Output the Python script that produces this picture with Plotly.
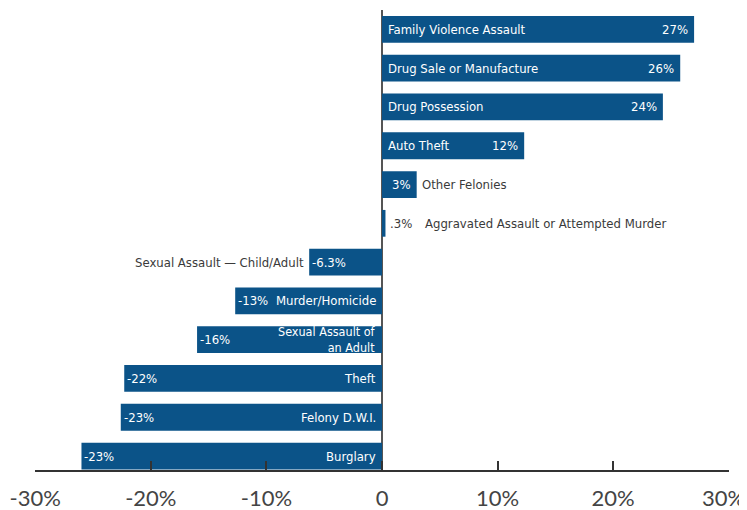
import plotly.graph_objects as go

categories = ["Family Violence Assault", "Drug Sale or Manufacture", "Drug Possession",
              "Auto Theft", "Other Felonies", "Aggravated Assault or Attempted Murder",
              "Sexual Assault — Child/Adult", "Murder/Homicide", "Sexual Assault of<br>an Adult",
              "Theft", "Felony D.W.I.", "Burglary"]
values = [27.0, 25.8, 24.3, 12.3, 3.0, 0.3, -6.3, -12.7, -16.0, -22.3, -22.6, -26.0]
pct_labels = ["27%", "26%", "24%", "12%", "3%", ".3%", "-6.3%", "-13%", "-16%", "-22%", "-23%", "-23%"]
tick_vals = [-30, -20, -10, 0, 10, 20, 30]
tick_text = ["-30%", "-20%", "-10%", "0", "10%", "20%", "30%"]

# placement: (name position, pct position)
placement = {
    "Family Violence Assault": ("in_base", "in_end"),
    "Drug Sale or Manufacture": ("in_base", "in_end"),
    "Drug Possession": ("in_base", "in_end"),
    "Auto Theft": ("in_base", "in_end"),
    "Other Felonies": ("out_end", "in_end"),
    "Aggravated Assault or Attempted Murder": ("out_far", "out_end"),
    "Sexual Assault — Child/Adult": ("out_end", "in_end"),
    "Murder/Homicide": ("in_base", "in_end"),
    "Sexual Assault of<br>an Adult": ("in_base", "in_end"),
    "Theft": ("in_base", "in_end"),
    "Felony D.W.I.": ("in_base", "in_end"),
    "Burglary": ("in_base", "in_end"),
}

BAR = "#0b5388"
DARK = "#3a3a3a"
LABEL_FONT = "Liberation Sans Narrow, DejaVu Sans Condensed, Arial Narrow, sans-serif"
TICK_FONT = dict(family="Lato, sans-serif", size=22, color="#444")

ypos = list(range(len(categories) - 1, -1, -1))

fig = go.Figure(go.Bar(
    x=values, y=ypos, orientation="h", width=0.69,
    marker=dict(color=BAR, line=dict(width=0)),
    hoverinfo="skip",
))

annotations = []
for cat, v, p, y in zip(categories, values, pct_labels, ypos):
    npos, ppos = placement[cat]
    sign = 1 if v >= 0 else -1

    def add(text, pos):
        if pos == "in_base":
            x, xanchor, shift, col = 0, "left" if sign > 0 else "right", 4 * sign, "white"
        elif pos == "in_end":
            x, xanchor, shift = v, "right" if sign > 0 else "left", (-4 if sign > 0 else 1)
            col = "white"
        elif pos == "out_end":
            x, xanchor, shift, col = v, "left" if sign > 0 else "right", 3 * sign, DARK
        else:  # out_far
            x, xanchor, shift, col = v, "left", 38, DARK
        annotations.append(dict(
            x=x, y=y, xref="x", yref="y", text=text, showarrow=False,
            xanchor=xanchor, yanchor="middle", xshift=shift,
            align="right" if xanchor == "right" else "left",
            font=dict(family=LABEL_FONT, size=13 if "<br>" not in text else 12.5, color=col),
        ))

    add(cat, npos)
    add(p, ppos)

# last tick label is pulled inside the page edge, as in the reference
shown_text = tick_text[:-1] + [""]
annotations.append(dict(
    x=tick_vals[-1], y=0, xref="x", yref="paper", text=tick_text[-1], showarrow=False,
    xanchor="right", yanchor="middle", xshift=18, yshift=-27, font=TICK_FONT,
))

# page body has an 8px margin; figure is offset to compensate
fig.update_layout(
    width=747, height=502,
    margin=dict(l=27, r=26, t=2, b=40, autoexpand=False),
    paper_bgcolor="white", plot_bgcolor="white",
    showlegend=False,
    annotations=annotations,
    xaxis=dict(
        range=[-30.02, 30.02], tickvals=tick_vals, ticktext=shown_text,
        showgrid=False, zeroline=True, zerolinecolor="#555", zerolinewidth=2,
        showline=True, linecolor="#333", linewidth=2,
        ticks="inside", ticklen=9, tickwidth=2, tickcolor="#333",
        tickfont=TICK_FONT,
        ticklabelstandoff=8, ticklabeloverflow="allow",
        automargin=False, fixedrange=True,
    ),
    yaxis=dict(
        range=[-0.36, 11.5], showticklabels=False, showgrid=False,
        zeroline=False, showline=False, ticks="", fixedrange=True,
    ),
)

fig.write_html("out.html")
